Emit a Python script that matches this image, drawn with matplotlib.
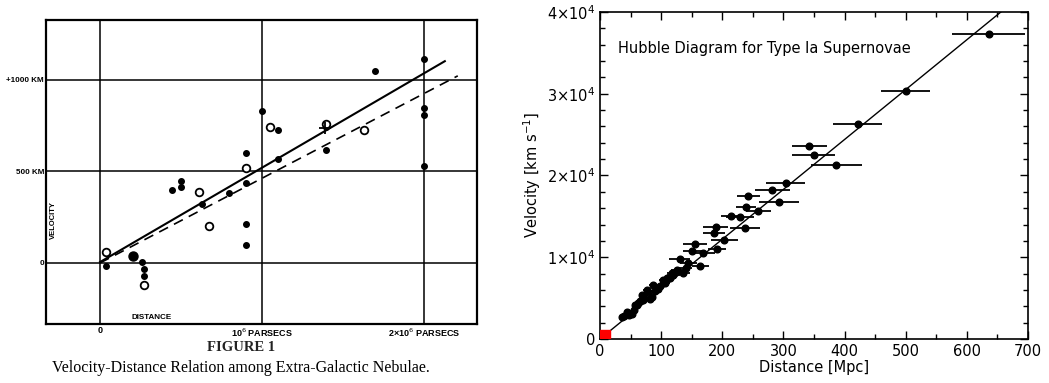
import numpy as np
import matplotlib
matplotlib.use("Agg")
import matplotlib.pyplot as plt
from matplotlib.patches import Rectangle
from matplotlib.ticker import MultipleLocator

# Hubble 1929 (distance in 1e6 pc, velocity in km/s)
hub_filled_d = [0.037, 0.258, 0.27, 0.27, 0.443, 0.5, 0.5, 0.63, 0.796, 0.9, 0.9, 0.9, 0.9,
                1.0, 1.097, 1.097, 1.396, 1.396, 1.697, 2.0, 2.0, 2.0, 2.0]
hub_filled_v = [-18, 5, -33, -73, 400, 447, 416, 320, 383, 597, 434, 215, 100,
                831, 727, 564, 614, 740, 1045, 1113, 845, 809, 527]
hub_big_d = [0.206]
hub_big_v = [40]
hub_open_d = [0.037, 0.27, 0.608, 0.67, 0.9, 1.047, 1.396, 1.629]
hub_open_v = [60, -118, 385, 200, 516, 741, 760, 727]
hub_cross_d = [1.39]
hub_cross_v = [735]
solid_x = [0.0, 2.13]
solid_v = [5, 1100]
dashed_x = [0.0, 2.21]
dashed_v = [0, 1020]

# Type Ia supernovae (Mpc, km/s, distance error)
sn_d = [35.5, 40, 43.6, 45, 48, 52, 55, 57.3, 60, 62.7, 65, 68.2, 70, 72, 76.4, 78, 82, 84.6,
        87.3, 90, 95, 98, 103.7, 106, 110, 114.6, 118, 120, 125.5, 130, 136, 140, 144.6, 151,
        155.5, 164, 169, 187, 189, 191, 203, 214.4, 229, 237, 238.4, 242.8, 259, 282, 293,
        303.9, 342.6, 349.2, 386.3, 421.7, 500.3, 635.6]
sn_v = [2730, 2800, 3340, 3200, 2900, 3000, 3600, 4150, 4100, 4360, 4600, 5380, 4800, 5000,
        5990, 5800, 4900, 5170, 6600, 5900, 6100, 6480, 7210, 6900, 7500, 7490, 8100, 7820,
        8430, 9815, 8020, 8700, 9250, 10750, 11650, 8960, 10550, 12910, 13720, 11000, 12100,
        15070, 14950, 13520, 16170, 17430, 15640, 18250, 16780, 19020, 23660, 22480, 21260,
        26350, 30340, 37270]
sn_err = [3, 3, 3, 3, 4, 4, 4, 4, 4, 5, 5, 5, 5, 5, 6, 6, 6, 6, 7, 7, 7, 8, 8, 8, 9, 9, 9,
          10, 10, 17, 11, 11, 14, 16, 19, 14, 19, 18, 20, 15, 22, 16, 23, 25, 16, 19, 21, 28,
          33, 32, 28, 35, 42, 40, 40, 60]
fit_x = [0, 700]
fit_v = [0, 42700]

fig = plt.figure(figsize=(10.49, 3.83), dpi=100)

# left panel: Hubble's figure
ax1 = fig.add_axes([0.0439, 0.154, 0.411, 0.794])
ax1.set_xlim(-0.334, 2.33)
ax1.set_ylim(-333, 1325)
for s in ax1.spines.values():
    s.set_linewidth(1.6)
ax1.set_xticks([0, 1, 2])
ax1.set_xticklabels(["0", "10$^6$ PARSECS", "2×10$^6$ PARSECS"], fontsize=6.5,
                    fontweight="bold", family="Liberation Sans")
ax1.set_yticks([0, 500, 1000])
ax1.set_yticklabels(["0", "500 KM", "+1000 KM"], fontsize=5.8, fontweight="bold",
                    family="Liberation Sans")
ax1.tick_params(length=0, pad=1.5)
ax1.grid(True, color="black", linewidth=1.1)
ax1.set_axisbelow(True)
ax1.plot(solid_x, solid_v, color="black", linewidth=1.5)
ax1.plot(dashed_x, dashed_v, color="black", linewidth=1.2, linestyle=(0, (6, 4)))
ax1.plot(hub_filled_d, hub_filled_v, "o", color="black", markersize=4)
ax1.plot(hub_big_d, hub_big_v, "o", color="black", markersize=6.5)
ax1.plot(hub_open_d, hub_open_v, "o", markerfacecolor="white", markeredgecolor="black",
         markersize=5.5, markeredgewidth=1.3)
ax1.plot(hub_cross_d, hub_cross_v, "+", color="black", markersize=8, markeredgewidth=1.3)
ax1.text(-0.29, 234, "VELOCITY", rotation=90, fontsize=5.5, fontweight="bold",
         family="Liberation Sans", ha="center", va="center")
ax1.text(0.32, -300, "DISTANCE", fontsize=5.8, fontweight="bold", family="Liberation Sans",
         ha="center", va="center")
fig.text(0.230, 0.092, "FIGURE 1", family="Liberation Serif", fontsize=10.5,
         fontweight="bold", ha="center", va="center", color="#222222")
fig.text(0.230, 0.040, "Velocity-Distance Relation among Extra-Galactic Nebulae.",
         family="Liberation Serif", fontsize=11.5, ha="center", va="center")

# right panel: supernovae
ax2 = fig.add_axes([0.572, 0.1149, 0.408, 0.854])
ax2.set_xlim(0, 700)
ax2.set_ylim(0, 40000)
ax2.errorbar(sn_d, sn_v, xerr=sn_err, fmt="o", color="black", markersize=4.8,
             elinewidth=1.3, capsize=0, clip_on=True)
ax2.plot(fit_x, fit_v, color="black", linewidth=1.0)
ax2.add_patch(Rectangle((0, 0), 17, 1100, color="red", zorder=3))
ax2.xaxis.set_major_locator(MultipleLocator(100))
ax2.xaxis.set_minor_locator(MultipleLocator(50))
ax2.yaxis.set_major_locator(MultipleLocator(10000))
ax2.yaxis.set_minor_locator(MultipleLocator(2000))
ax2.set_yticks([0, 10000, 20000, 30000, 40000])
ax2.set_yticklabels(["0", "1×10$^4$", "2×10$^4$", "3×10$^4$", "4×10$^4$"])
ax2.tick_params(which="both", direction="in", top=True, right=True, labelsize=10.5)
ax2.tick_params(which="major", length=6, width=1)
ax2.tick_params(which="minor", length=3.5, width=1)
for s in ax2.spines.values():
    s.set_linewidth(1.2)
ax2.set_xlabel("Distance [Mpc]", fontsize=10.5, labelpad=1)
ax2.set_ylabel("Velocity [km s$^{-1}$]", fontsize=10.5, labelpad=3)
ax2.text(30, 35500, "Hubble Diagram for Type Ia Supernovae", fontsize=10.5, va="center")

fig.savefig("out.png", dpi=100)
